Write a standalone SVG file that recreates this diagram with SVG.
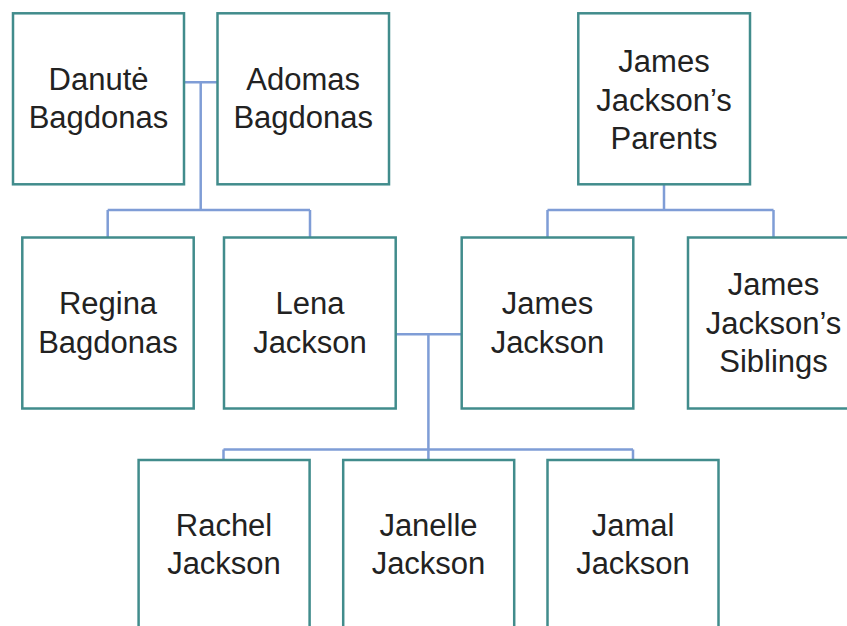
<svg xmlns="http://www.w3.org/2000/svg" width="847" height="626" viewBox="0 0 847 626">
<style>
.box{fill:#ffffff;stroke:#418c8c;stroke-width:2.5}
.lbl{font-family:"Liberation Sans",Arial,Helvetica,sans-serif;font-size:31px;fill:#222222;text-anchor:middle}
.conn{fill:none;stroke:#7f9dd6;stroke-width:2.5}
</style>
<rect width="847" height="626" fill="#ffffff"/>
<g id="connectors">
<path class="conn" d="M184,82.3 H217.5 M200.7,82.3 V210 M107.7,210 H310 M107.7,210 V237.5 M310,210 V237.5"/>
<path class="conn" d="M664,184 V210 M547.5,210 H773.5 M547.5,210 V237.5 M773.5,210 V237.5"/>
<path class="conn" d="M395.7,334.3 H461.7 M428.4,334.3 V449.4 M223.5,449.4 H633 M223.5,449.4 V471 M428.4,449.4 V471 M633,449.4 V471"/>
</g>
<g id="danute">
<rect class="box" x="13" y="13.3" width="171" height="171"/>
<text class="lbl" x="98.5" y="90">Danutė</text>
<text class="lbl" x="98.5" y="128">Bagdonas</text>
</g>
<g id="adomas">
<rect class="box" x="217.5" y="13.3" width="171.5" height="171"/>
<text class="lbl" x="303.2" y="90">Adomas</text>
<text class="lbl" x="303.2" y="128">Bagdonas</text>
</g>
<g id="jj-parents">
<rect class="box" x="578.3" y="13.3" width="171.7" height="171"/>
<text class="lbl" x="664" y="72">James</text>
<text class="lbl" x="664" y="110.5">Jackson’s</text>
<text class="lbl" x="664" y="149">Parents</text>
</g>
<g id="regina">
<rect class="box" x="22.3" y="237.5" width="171.4" height="171"/>
<text class="lbl" x="108" y="314.3">Regina</text>
<text class="lbl" x="108" y="352.7">Bagdonas</text>
</g>
<g id="lena">
<rect class="box" x="224" y="237.5" width="171.7" height="171"/>
<text class="lbl" x="310" y="314.3">Lena</text>
<text class="lbl" x="310" y="352.7">Jackson</text>
</g>
<g id="james">
<rect class="box" x="461.7" y="237.5" width="171.6" height="171"/>
<text class="lbl" x="547.5" y="314.3">James</text>
<text class="lbl" x="547.5" y="352.7">Jackson</text>
</g>
<g id="jj-siblings">
<rect class="box" x="688" y="237.5" width="171" height="171"/>
<text class="lbl" x="773.5" y="295">James</text>
<text class="lbl" x="773.5" y="333.5">Jackson’s</text>
<text class="lbl" x="773.5" y="372">Siblings</text>
</g>
<g id="rachel">
<rect class="box" x="138.6" y="460" width="171" height="171"/>
<text class="lbl" x="224" y="536">Rachel</text>
<text class="lbl" x="224" y="574">Jackson</text>
</g>
<g id="janelle">
<rect class="box" x="343.2" y="460" width="171" height="171"/>
<text class="lbl" x="428.5" y="536">Janelle</text>
<text class="lbl" x="428.5" y="574">Jackson</text>
</g>
<g id="jamal">
<rect class="box" x="547.5" y="460" width="171" height="171"/>
<text class="lbl" x="633" y="536">Jamal</text>
<text class="lbl" x="633" y="574">Jackson</text>
</g>
</svg>
